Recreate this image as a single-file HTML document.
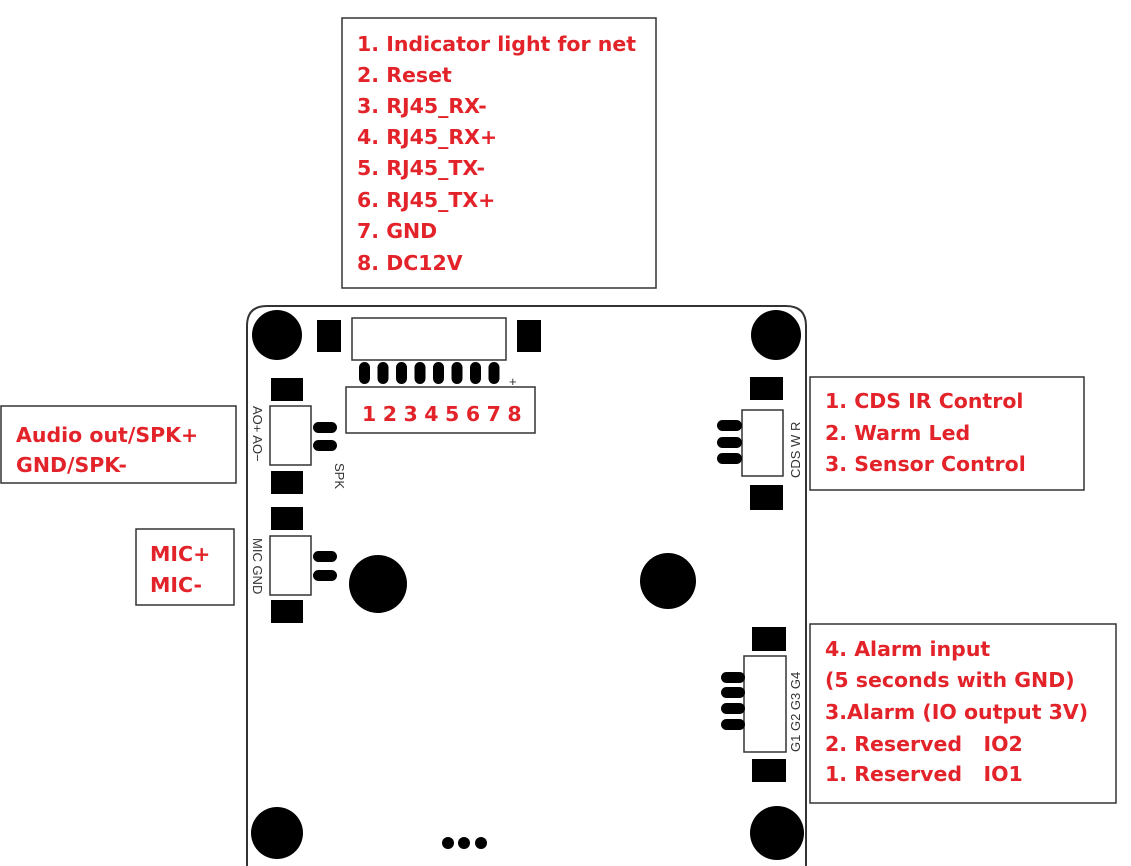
<!DOCTYPE html>
<html><head><meta charset="utf-8"><style>
html,body{margin:0;padding:0;background:#fff;}
svg{display:block;}
.t{font-family:"DejaVu Sans","Liberation Sans",sans-serif;font-weight:bold;font-size:20.5px;fill:#e3232a;}
.s{font-family:"Liberation Sans",sans-serif;font-size:13px;fill:#333;}
</style></head><body>
<svg width="1131" height="866" viewBox="0 0 1131 866" xmlns="http://www.w3.org/2000/svg">
<path d="M247,900 V326 Q247,306 267,306 H786 Q806,306 806,326 V900" fill="none" stroke="#333" stroke-width="2"/>
<circle cx="277" cy="335" r="25" fill="#000"/>
<circle cx="776" cy="335" r="25" fill="#000"/>
<circle cx="277" cy="833" r="26" fill="#000"/>
<circle cx="777" cy="833" r="27" fill="#000"/>
<circle cx="378" cy="584" r="29" fill="#000"/>
<circle cx="668" cy="581" r="28" fill="#000"/>
<circle cx="448" cy="843" r="6" fill="#000"/>
<circle cx="464" cy="843" r="6" fill="#000"/>
<circle cx="481" cy="843" r="6" fill="#000"/>
<rect x="317" y="320" width="24" height="32" fill="#000"/>
<rect x="517" y="320" width="24" height="32" fill="#000"/>
<rect x="352" y="318" width="154" height="42" fill="#fff" stroke="#333" stroke-width="1.5"/>
<g fill="#000">
<rect x="359" y="362" width="11" height="22" rx="5.5"/>
<rect x="377.5" y="362" width="11" height="22" rx="5.5"/>
<rect x="396" y="362" width="11" height="22" rx="5.5"/>
<rect x="414.5" y="362" width="11" height="22" rx="5.5"/>
<rect x="433" y="362" width="11" height="22" rx="5.5"/>
<rect x="451.5" y="362" width="11" height="22" rx="5.5"/>
<rect x="470" y="362" width="11" height="22" rx="5.5"/>
<rect x="488.5" y="362" width="11" height="22" rx="5.5"/>
</g>
<text x="509" y="386" class="s" font-size="15">+</text>
<rect x="346" y="387" width="189" height="46" fill="#fff" stroke="#333" stroke-width="1.5"/>
<text x="362" y="421" class="t" font-size="22" letter-spacing="6.5">12345678</text>
<rect x="271" y="378" width="32" height="23" fill="#000"/>
<rect x="270" y="406" width="41" height="59" fill="#fff" stroke="#333" stroke-width="1.5"/>
<rect x="313" y="422" width="24" height="11" rx="5.5" fill="#000"/>
<rect x="313" y="440" width="24" height="11" rx="5.5" fill="#000"/>
<rect x="271" y="471" width="32" height="23" fill="#000"/>
<text transform="translate(253,406) rotate(90)" class="s">AO+ AO−</text>
<text transform="translate(335,463) rotate(90)" class="s">SPK</text>
<rect x="271" y="507" width="32" height="23" fill="#000"/>
<rect x="270" y="536" width="41" height="59" fill="#fff" stroke="#333" stroke-width="1.5"/>
<rect x="313" y="551" width="24" height="11" rx="5.5" fill="#000"/>
<rect x="313" y="570" width="24" height="11" rx="5.5" fill="#000"/>
<rect x="271" y="600" width="32" height="23" fill="#000"/>
<text transform="translate(253,538) rotate(90)" class="s">MIC  GND</text>
<rect x="750" y="377" width="33" height="23" fill="#000"/>
<rect x="742" y="410" width="41" height="66" fill="#fff" stroke="#333" stroke-width="1.5"/>
<rect x="717" y="420" width="25" height="11" rx="5.5" fill="#000"/>
<rect x="717" y="437" width="25" height="11" rx="5.5" fill="#000"/>
<rect x="717" y="453" width="25" height="11" rx="5.5" fill="#000"/>
<rect x="750" y="485" width="33" height="25" fill="#000"/>
<text transform="translate(800,478) rotate(-90)" class="s">CDS  W  R</text>
<rect x="752" y="627" width="34" height="24" fill="#000"/>
<rect x="744" y="656" width="42" height="96" fill="#fff" stroke="#333" stroke-width="1.5"/>
<rect x="721" y="672" width="24" height="11" rx="5.5" fill="#000"/>
<rect x="721" y="687" width="24" height="11" rx="5.5" fill="#000"/>
<rect x="721" y="703" width="24" height="11" rx="5.5" fill="#000"/>
<rect x="721" y="719" width="24" height="11" rx="5.5" fill="#000"/>
<rect x="752" y="759" width="34" height="23" fill="#000"/>
<text transform="translate(800,752) rotate(-90)" class="s">G1  G2  G3  G4</text>
<rect x="342" y="18" width="314" height="270" fill="#fff" stroke="#333" stroke-width="1.5"/>
<g class="t">
<text x="357" y="51">1. Indicator light for net</text>
<text x="357" y="82">2. Reset</text>
<text x="357" y="113">3. RJ45_RX-</text>
<text x="357" y="144">4. RJ45_RX+</text>
<text x="357" y="175">5. RJ45_TX-</text>
<text x="357" y="207">6. RJ45_TX+</text>
<text x="357" y="238">7. GND</text>
<text x="357" y="270">8. DC12V</text>
</g>
<rect x="1" y="406" width="235" height="77" fill="#fff" stroke="#333" stroke-width="1.5"/>
<text x="16" y="442" class="t">Audio out/SPK+</text>
<text x="16" y="472" class="t">GND/SPK-</text>
<rect x="136" y="529" width="98" height="76" fill="#fff" stroke="#333" stroke-width="1.5"/>
<text x="150" y="561" class="t">MIC+</text>
<text x="150" y="592" class="t">MIC-</text>
<rect x="810" y="377" width="274" height="113" fill="#fff" stroke="#333" stroke-width="1.5"/>
<text x="825" y="408" class="t">1. CDS IR Control</text>
<text x="825" y="440" class="t">2. Warm Led</text>
<text x="825" y="471" class="t">3. Sensor Control</text>
<rect x="810" y="624" width="306" height="179" fill="#fff" stroke="#333" stroke-width="1.5"/>
<text x="825" y="656" class="t">4. Alarm input</text>
<text x="825" y="687" class="t">(5 seconds with GND)</text>
<text x="825" y="719" class="t">3.Alarm (IO output 3V)</text>
<text x="825" y="751" class="t" xml:space="preserve">2. Reserved   IO2</text>
<text x="825" y="781" class="t" xml:space="preserve">1. Reserved   IO1</text>
</svg>
</body></html>
